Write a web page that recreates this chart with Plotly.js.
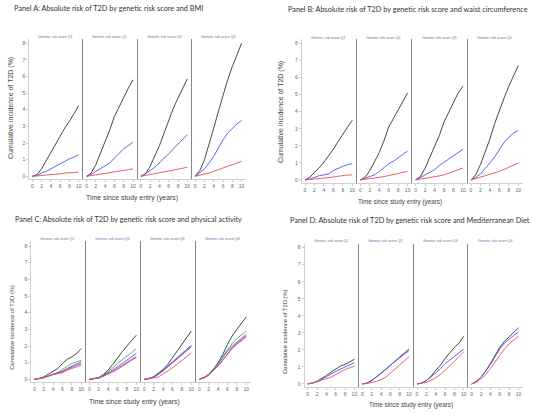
<!DOCTYPE html>
<html><head><meta charset="utf-8">
<script src="https://cdn.plot.ly/plotly-3.0.1.min.js"></script>
<style>html,body{margin:0;padding:0;background:#fff;}#chart{width:535px;height:418px;}</style>
</head><body><div id="chart"></div>
<script>
// ---------------- DATA ----------------
const years = [0,1,2,3,4,5,6,7,8,9,10];
const quartileLabels = ['Genetic risk score Q1','Genetic risk score Q2','Genetic risk score Q3','Genetic risk score Q4'];
const panelTitles = [
  'Panel A: Absolute risk of T2D by genetic risk score and BMI',
  'Panel B: Absolute risk of T2D by genetic risk score and waist circumference',
  'Panel C: Absolute risk of T2D by genetic risk score and physical activity',
  'Panel D: Absolute risk of T2D by genetic risk score and Mediterranean Diet'
];
const yAxisTitle = 'Cumulative incidence of T2D (%)';
const xAxisTitle = 'Time since study entry (years)';
const yTickVals = [0,1,2,3,4,5,6,7,8];
const xTickVals = [0,2,4,6,8,10];

// Panel A (BMI) — one row per genetic risk quartile Q1..Q4
const A_black = [
  [0,0.1,0.45,0.95,1.4,1.9,2.45,2.9,3.3,3.75,4.25],
  [0,0.2,0.7,1.4,2.0,2.8,3.6,4.2,4.8,5.3,5.8],
  [0,0.15,0.6,1.2,1.85,2.6,3.4,4.1,4.7,5.3,5.85],
  [0,0.35,1.0,1.9,2.9,3.9,4.9,5.8,6.6,7.3,8.0]
];
const A_blue = [
  [0,0.05,0.2,0.3,0.45,0.6,0.8,0.95,1.05,1.15,1.3],
  [0,0.1,0.3,0.45,0.65,0.8,1.1,1.4,1.65,1.85,2.05],
  [0,0.15,0.35,0.55,0.8,1.05,1.35,1.65,1.95,2.25,2.5],
  [0,0.2,0.45,0.8,1.2,1.7,2.2,2.6,2.9,3.15,3.35]
];
const A_red = [
  [0,0.02,0.05,0.07,0.1,0.12,0.15,0.19,0.22,0.24,0.25],
  [0,0.04,0.08,0.11,0.15,0.2,0.25,0.3,0.35,0.4,0.45],
  [0,0.05,0.1,0.15,0.2,0.25,0.3,0.36,0.42,0.48,0.55],
  [0,0.06,0.12,0.2,0.3,0.4,0.5,0.6,0.7,0.8,0.9]
];

// Panel B (waist circumference)
const B_black = [
  [0,0.15,0.45,0.7,1.05,1.4,1.8,2.25,2.7,3.1,3.5],
  [0,0.15,0.55,1.1,1.6,2.3,3.1,3.6,4.1,4.6,5.1],
  [0,0.2,0.7,1.3,1.9,2.6,3.4,4.0,4.6,5.1,5.5],
  [0,0.3,0.9,1.6,2.4,3.3,4.1,4.8,5.5,6.1,6.7]
];
const B_blue = [
  [0,0.05,0.15,0.25,0.3,0.35,0.55,0.7,0.8,0.9,0.95],
  [0,0.1,0.2,0.3,0.5,0.75,0.95,1.1,1.3,1.45,1.7],
  [0,0.15,0.25,0.4,0.6,0.85,1.05,1.25,1.45,1.6,1.8],
  [0,0.15,0.35,0.65,1.0,1.35,1.8,2.2,2.5,2.75,2.9]
];
const B_red = [
  [0,0.02,0.05,0.07,0.1,0.14,0.18,0.23,0.27,0.29,0.3],
  [0,0.03,0.05,0.1,0.15,0.2,0.25,0.32,0.38,0.44,0.5],
  [0,0.04,0.08,0.13,0.18,0.24,0.3,0.4,0.5,0.6,0.7],
  [0,0.08,0.15,0.22,0.3,0.4,0.5,0.62,0.75,0.88,1.0]
];

// Panel C (physical activity)
const C_black = [
  [0,0.05,0.15,0.3,0.45,0.65,0.95,1.2,1.35,1.55,1.85],
  [0,0.03,0.1,0.3,0.55,0.9,1.3,1.65,2.0,2.3,2.65],
  [0,0.05,0.15,0.35,0.6,0.9,1.3,1.75,2.1,2.5,2.9],
  [0,0.1,0.3,0.6,1.0,1.5,2.1,2.6,3.0,3.4,3.75]
];
const C_green = [
  [0,0.05,0.12,0.2,0.3,0.4,0.6,0.8,0.95,1.05,1.15],
  [0,0.03,0.1,0.25,0.45,0.7,0.95,1.2,1.4,1.6,1.85],
  [0,0.05,0.15,0.3,0.5,0.75,1.0,1.25,1.5,1.75,2.0],
  [0,0.1,0.3,0.6,0.95,1.4,1.8,2.15,2.45,2.7,2.9]
];
const C_blue = [
  [0,0.05,0.1,0.2,0.3,0.38,0.5,0.65,0.8,0.95,1.05],
  [0,0.03,0.1,0.22,0.38,0.55,0.75,0.95,1.15,1.3,1.55],
  [0,0.05,0.15,0.32,0.55,0.8,1.05,1.3,1.55,1.8,2.05],
  [0,0.1,0.28,0.55,0.9,1.3,1.7,2.0,2.25,2.5,2.7]
];
const C_purple = [
  [0,0.05,0.1,0.2,0.3,0.35,0.45,0.6,0.75,0.85,0.95],
  [0,0.03,0.08,0.2,0.33,0.48,0.65,0.85,1.05,1.2,1.35],
  [0,0.05,0.13,0.3,0.5,0.75,1.0,1.25,1.5,1.72,1.95],
  [0,0.1,0.25,0.5,0.8,1.15,1.55,1.9,2.15,2.4,2.6]
];
const C_red = [
  [0,0.05,0.1,0.2,0.3,0.35,0.4,0.55,0.65,0.75,0.85],
  [0,0.03,0.08,0.18,0.3,0.45,0.6,0.8,1.0,1.15,1.3],
  [0,0.03,0.08,0.15,0.3,0.5,0.7,0.9,1.1,1.35,1.6],
  [0,0.1,0.25,0.5,0.8,1.15,1.5,1.85,2.1,2.35,2.55]
];

// Panel D (Mediterranean diet)
const D_black = [
  [0,0.05,0.15,0.3,0.5,0.7,0.9,1.05,1.15,1.3,1.45],
  [0,0.05,0.2,0.4,0.6,0.85,1.1,1.35,1.6,1.85,2.05],
  [0,0.05,0.2,0.45,0.8,1.1,1.5,1.85,2.15,2.4,2.8],
  [0,0.15,0.4,0.75,1.2,1.7,2.15,2.5,2.75,3.0,3.3]
];
const D_blue = [
  [0,0.05,0.15,0.27,0.42,0.6,0.75,0.9,1.0,1.12,1.25],
  [0,0.05,0.2,0.4,0.6,0.85,1.1,1.35,1.55,1.75,1.95],
  [0,0.05,0.2,0.4,0.65,0.9,1.2,1.4,1.6,1.85,2.05],
  [0,0.15,0.4,0.75,1.15,1.6,2.05,2.4,2.65,2.85,3.05]
];
const D_red = [
  [0,0.05,0.12,0.22,0.3,0.4,0.55,0.7,0.85,0.95,1.05],
  [0,0.03,0.08,0.15,0.25,0.4,0.65,0.9,1.1,1.35,1.6],
  [0,0.03,0.1,0.2,0.35,0.55,0.8,1.05,1.3,1.6,1.9],
  [0,0.1,0.3,0.55,0.9,1.3,1.7,2.05,2.35,2.6,2.8]
];

// ---------------- STYLE / LAYOUT ----------------
const W = 535, H = 418;
const colors = {black:'#333333', blue:'#5050ee', red:'#e5505a', green:'#4caa50', purple:'#9a45c4'};
const panels = [
  {series:[['black',A_black],['blue',A_blue],['red',A_red]], left:29.05, pitch:54.3, top:39.3, bottom:179.3, yr:[-0.18,8.23],
   title:{x:12.3,y:9}, ytitle:{x:11,y:108,s:7.0}, xtitle:{x:131.5,y:197.7,s:6.9}, qt:37.3},
  {series:[['black',B_black],['blue',B_blue],['red',B_red]], left:301.7, pitch:55.33, top:39.3, bottom:182.7, yr:[-0.16,8.24],
   title:{x:285.7,y:9.3}, ytitle:{x:281,y:112,s:7.0}, xtitle:{x:400,y:201.7,s:6.3}, qt:37.7},
  {series:[['black',C_black],['green',C_green],['blue',C_blue],['purple',C_purple],['red',C_red]], left:31.0, pitch:55.0, top:240.5, bottom:381.7, yr:[-0.14,8.33],
   title:{x:12.7,y:219}, ytitle:{x:11.7,y:327,s:5.8}, xtitle:{x:134.5,y:402.3,s:6.8}, qt:239.3},
  {series:[['black',D_black],['blue',D_blue],['red',D_red]], left:304.4, pitch:54.67, top:244.3, bottom:386.7, yr:[-0.16,8.2],
   title:{x:288.3,y:220}, ytitle:{x:285,y:332,s:5.8}, xtitle:{x:411,y:405,s:6.3}, qt:241}
];

const data = [];
const layout = {
  width: W, height: H, margin:{l:0,r:0,t:0,b:0}, autosize:false,
  paper_bgcolor:'#ffffff', plot_bgcolor:'#ffffff', showlegend:false,
  font:{family:'Liberation Sans, Arial, sans-serif', color:'#444'},
  annotations: []
};

let n = 0;
panels.forEach((p, pi) => {
  for (let q = 0; q < 4; q++) {
    n++;
    const xs = n === 1 ? '' : String(n);
    const xl = p.left + q * p.pitch, xr = xl + p.pitch;
    layout['xaxis' + xs] = {
      domain:[xl / W, xr / W], range:[-0.7, 11], anchor:'y' + xs,
      tickvals: xTickVals, ticks:'outside', ticklen:2, tickwidth:0.6, tickcolor:'#aaa',
      tickfont:{size:5, color:'#666'}, showline:true, linecolor:'#c4c4c4', linewidth:0.8,
      showgrid:false, zeroline:false, fixedrange:true
    };
    const first = q === 0;
    layout['yaxis' + xs] = {
      domain:[1 - p.bottom / H, 1 - p.top / H], range:p.yr, anchor:'x' + xs,
      tickvals: yTickVals, ticks: first ? 'outside' : '', ticklen:2, tickwidth:0.6, tickcolor:'#aaa',
      showticklabels:first, tickfont:{size:5, color:'#666'},
      showline:true, linecolor: first ? '#c4c4c4' : '#7a7a7a', linewidth: first ? 0.8 : 0.9,
      showgrid:false, zeroline:false, fixedrange:true
    };
    p.series.forEach(([c, arr]) => {
      data.push({
        type:'scatter', mode:'lines', x: years, y: arr[q],
        xaxis:'x' + xs, yaxis:'y' + xs,
        line:{color:colors[c], width:0.9}, hoverinfo:'skip'
      });
    });
    layout.annotations.push({
      text: quartileLabels[q], xref:'x' + xs, yref:'paper', x:5, y:1 - p.qt / H,
      xanchor:'center', yanchor:'middle', showarrow:false,
      font:{size:3.6, color:'#6070a0', family:'Liberation Sans, Arial, sans-serif'}
    });
  }
  layout.annotations.push({
    text: panelTitles[pi], xref:'paper', yref:'paper', x:p.title.x / W, y:1 - p.title.y / H,
    xanchor:'left', yanchor:'middle', showarrow:false,
    font:{size:7.3, color:'#333', family:'Lato, Carlito, sans-serif'}
  });
  layout.annotations.push({
    text: yAxisTitle, xref:'paper', yref:'paper', x:p.ytitle.x / W, y:1 - p.ytitle.y / H,
    xanchor:'center', yanchor:'middle', textangle:-90, showarrow:false,
    font:{size:p.ytitle.s, color:'#444'}
  });
  layout.annotations.push({
    text: xAxisTitle, xref:'paper', yref:'paper', x:p.xtitle.x / W, y:1 - p.xtitle.y / H,
    xanchor:'center', yanchor:'middle', showarrow:false,
    font:{size:p.xtitle.s, color:'#444'}
  });
});

Plotly.newPlot('chart', data, layout, {displayModeBar:false, staticPlot:true});
</script>
</body></html>
